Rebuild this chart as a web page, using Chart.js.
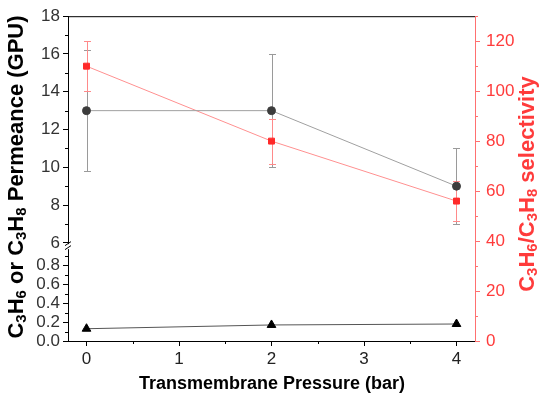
<!DOCTYPE html>
<html>
<head>
<meta charset="utf-8">
<script src="https://cdn.jsdelivr.net/npm/chart.js@4.4.1/dist/chart.umd.min.js"></script>
<style>
html,body{margin:0;padding:0;background:#fff;}
#wrap{width:550px;height:398px;position:relative;}
</style>
</head>
<body>
<div id="wrap"><canvas id="c" width="550" height="398"></canvas></div>
<script>
// ---- data ----
const pressure = [0, 2, 4];
const c3h6Permeance = [13, 13, 9];
const c3h6PermErr = [3.2, 3, 2];
const c3h8Permeance = [0.13, 0.17, 0.18];
const selectivity = [110, 80, 56];
const selectivityErr = [10, 9, 8];

// ---- tick labels ----
const xTicks = [0, 1, 2, 3, 4];
const leftTopTicks = [6, 8, 10, 12, 14, 16, 18];
const leftBottomTicks = [0.0, 0.2, 0.4, 0.6, 0.8];
const rightTicks = [0, 20, 40, 60, 80, 100, 120];

const FONT = "'Liberation Sans', Arial, Helvetica, sans-serif";
const RED_AXIS = '#ff7070';
const RED_TEXT = '#ff3b3b';

function pts(xs, ys) { return xs.map((x, i) => ({x: x, y: ys[i]})); }
function setTicks(arr) { return function(scale) { scale.ticks = arr.map(v => ({value: v})); }; }

const minorTickPlugin = {
  id: 'minorTicks',
  afterDraw(chart) {
    const ctx = chart.ctx;
    const defs = [
      {id: 'x', major: xTicks, color: '#000'},
      {id: 'yTop', major: leftTopTicks, color: '#000'},
      {id: 'yBot', major: leftBottomTicks, color: '#000'},
      {id: 'yR', major: rightTicks, color: RED_AXIS}
    ];
    ctx.save();
    ctx.lineWidth = 1;
    defs.forEach(d => {
      const s = chart.scales[d.id];
      const step = d.major[1] - d.major[0];
      const minors = d.major.map(v => v + step / 2).filter(v => v <= s.max + 1e-9 && v >= s.min);
      ctx.strokeStyle = d.color;
      ctx.beginPath();
      minors.forEach(v => {
        const p = Math.round(s.getPixelForValue(v)) + 0.5;
        if (d.id === 'x') { ctx.moveTo(p, s.top); ctx.lineTo(p, s.top + 3); }
        else if (d.id === 'yR') { ctx.moveTo(s.left, p); ctx.lineTo(s.left + 3, p); }
        else { ctx.moveTo(s.right, p); ctx.lineTo(s.right - 3, p); }
      });
      ctx.stroke();
    });
    // top frame line
    const a = chart.chartArea;
    ctx.strokeStyle = '#000';
    ctx.beginPath();
    ctx.moveTo(a.left, a.top + 0.5);
    ctx.lineTo(a.right, a.top + 0.5);
    ctx.stroke();
    // axis break marks
    const yt = chart.scales.yTop, yb = chart.scales.yBot;
    const yMid = (yt.bottom + yb.top) / 2;
    const xl = a.left;
    ctx.fillStyle = '#fff';
    ctx.fillRect(xl - 1.5, yMid - 2.5, 3, 5);
    ctx.strokeStyle = '#000';
    ctx.beginPath();
    ctx.moveTo(xl - 3, yMid - 1); ctx.lineTo(xl + 3, yMid - 5);
    ctx.moveTo(xl - 3, yMid + 3); ctx.lineTo(xl + 3, yMid - 1);
    ctx.stroke();
    ctx.restore();
  }
};

const errorBarPlugin = {
  id: 'errorBars',
  beforeDatasetsDraw(chart) {
    const ctx = chart.ctx;
    ctx.save();
    chart.data.datasets.forEach((ds, i) => {
      if (!ds.errors) return;
      const xs = chart.scales.x, ys = chart.scales[ds.yAxisID];
      ctx.strokeStyle = ds.errorColor;
      ctx.lineWidth = 1;
      ctx.beginPath();
      ds.data.forEach((p, j) => {
        const e = ds.errors[j];
        const px = Math.round(xs.getPixelForValue(p.x)) + 0.5;
        const y1 = ys.getPixelForValue(p.y + e);
        const y2 = ys.getPixelForValue(p.y - e);
        ctx.moveTo(px, y1); ctx.lineTo(px, y2);
        ctx.moveTo(px - 3.5, Math.round(y1) + 0.5); ctx.lineTo(px + 3.5, Math.round(y1) + 0.5);
        ctx.moveTo(px - 3.5, Math.round(y2) + 0.5); ctx.lineTo(px + 3.5, Math.round(y2) + 0.5);
      });
      ctx.stroke();
    });
    ctx.restore();
  }
};

function drawRich(ctx, parts, size) {
  let total = 0;
  const widths = parts.map(p => {
    ctx.font = 'bold ' + (p[1] ? Math.round(size * 0.68) : size) + 'px ' + FONT;
    const w = ctx.measureText(p[0]).width; total += w; return w;
  });
  let x = -total / 2;
  parts.forEach((p, i) => {
    ctx.font = 'bold ' + (p[1] ? Math.round(size * 0.68) : size) + 'px ' + FONT;
    ctx.fillText(p[0], x, p[1] ? size * 0.22 : 0);
    x += widths[i];
  });
}

const titlePlugin = {
  id: 'axisTitles',
  afterDraw(chart) {
    const ctx = chart.ctx;
    ctx.save();
    ctx.textBaseline = 'middle';
    ctx.textAlign = 'left';
    ctx.save();
    ctx.translate(17, 177);
    ctx.rotate(-Math.PI / 2);
    ctx.fillStyle = '#000';
    drawRich(ctx, [['C',0],['3',1],['H',0],['6',1],[' or C',0],['3',1],['H',0],['8',1],[' Permeance (GPU)',0]], 22);
    ctx.restore();
    ctx.save();
    ctx.translate(528, 184);
    ctx.rotate(-Math.PI / 2);
    ctx.fillStyle = RED_TEXT;
    drawRich(ctx, [['C',0],['3',1],['H',0],['6',1],['/C',0],['3',1],['H',0],['8',1],[' selectivity',0]], 22);
    ctx.restore();
    ctx.fillStyle = '#000';
    ctx.translate(272, 384);
    drawRich(ctx, [['Transmembrane Pressure (bar)',0]], 18);
    ctx.restore();
  }
};

const tickFont = {family: FONT, size: 17};

new Chart(document.getElementById('c'), {
  type: 'line',
  data: {
    datasets: [
      {
        label: 'C3H6 permeance',
        data: pts(pressure, c3h6Permeance),
        yAxisID: 'yTop',
        borderColor: '#a0a0a0', borderWidth: 1,
        pointStyle: 'circle', pointRadius: 4,
        pointBackgroundColor: '#3c3c3c', pointBorderColor: '#3c3c3c',
        errors: c3h6PermErr, errorColor: '#9a9a9a'
      },
      {
        label: 'C3H6/C3H8 selectivity',
        data: pts(pressure, selectivity),
        yAxisID: 'yR',
        borderColor: '#ff9090', borderWidth: 1,
        pointStyle: 'rect', pointRadius: 4.2,
        pointBackgroundColor: '#ff2a2a', pointBorderColor: '#ff2a2a',
        errors: selectivityErr, errorColor: '#ff8a8a'
      },
      {
        label: 'C3H8 permeance',
        data: pts(pressure, c3h8Permeance),
        yAxisID: 'yBot',
        borderColor: '#555', borderWidth: 1,
        pointStyle: 'triangle', pointRadius: 5,
        pointBackgroundColor: '#000', pointBorderColor: '#000'
      }
    ]
  },
  options: {
    responsive: false,
    animation: false,
    events: [],
    layout: {padding: {top: 13, left: 0, right: 0, bottom: 0}},
    plugins: {legend: {display: false}, tooltip: {enabled: false}},
    scales: {
      x: {
        type: 'linear', position: 'bottom', min: -0.2, max: 4.2,
        afterBuildTicks: setTicks(xTicks),
        afterFit(s) { s.height = 57; },
        grid: {display: true, drawOnChartArea: false, drawTicks: true, tickLength: 5, color: '#000'},
        border: {display: true, color: '#000', width: 1},
        ticks: {font: tickFont, color: '#222', padding: 3, maxRotation: 0, autoSkip: false}
      },
      yBot: {
        type: 'linear', position: 'left', stack: 'left', stackWeight: 95,
        min: 0, max: 1.0,
        afterBuildTicks: setTicks(leftBottomTicks),
        afterFit(s) { s.width = 68; },
        grid: {display: true, drawOnChartArea: false, drawTicks: true, tickLength: 5, color: '#000'},
        border: {display: true, color: '#000', width: 1},
        ticks: {font: tickFont, color: '#333', padding: 3, autoSkip: false, callback: v => v.toFixed(1)}
      },
      yTop: {
        type: 'linear', position: 'left', stack: 'left', stackWeight: 232,
        min: 5.8, max: 18,
        afterBuildTicks: setTicks(leftTopTicks),
        afterFit(s) { s.width = 68; },
        grid: {display: true, drawOnChartArea: false, drawTicks: true, tickLength: 5, color: '#000'},
        border: {display: true, color: '#000', width: 1},
        ticks: {font: tickFont, color: '#333', padding: 3, autoSkip: false}
      },
      yR: {
        type: 'linear', position: 'right', min: 0, max: 130,
        afterBuildTicks: setTicks(rightTicks),
        afterFit(s) { s.width = 75; },
        grid: {display: true, drawOnChartArea: false, drawTicks: true, tickLength: 5, color: RED_AXIS},
        border: {display: true, color: RED_AXIS, width: 1},
        ticks: {font: tickFont, color: RED_TEXT, padding: 6, autoSkip: false}
      }
    }
  },
  plugins: [errorBarPlugin, minorTickPlugin, titlePlugin]
});
</script>
</body>
</html>
